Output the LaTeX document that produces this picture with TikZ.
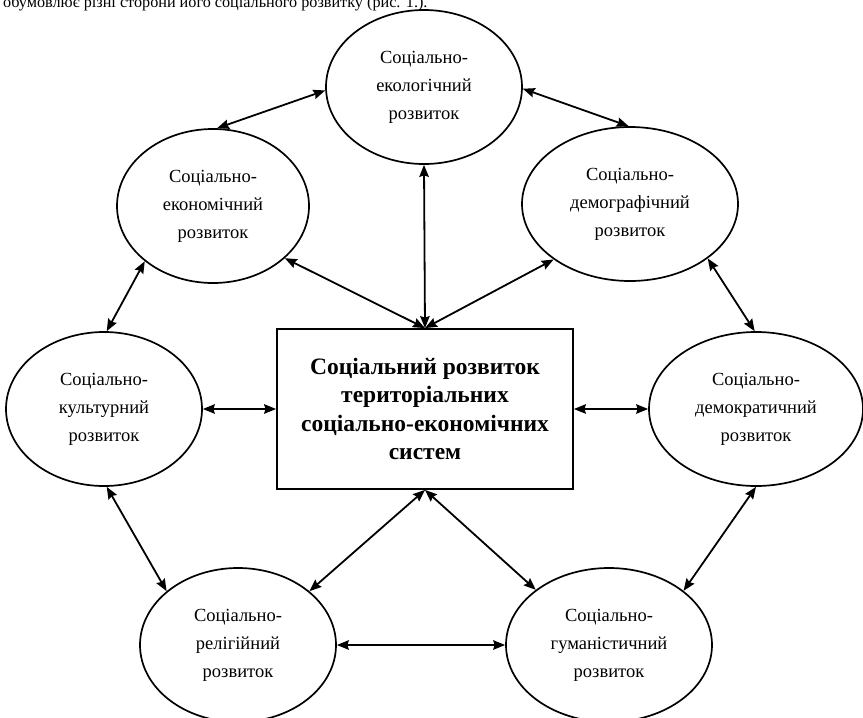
\documentclass[tikz,border=0pt]{standalone}
\usepackage{fontspec}
\setmainfont{Liberation Serif}
\usetikzlibrary{shapes.geometric,arrows.meta}
\begin{document}
\begin{tikzpicture}[x=1pt,y=-1pt,
 ell/.style={draw,ellipse,line width=1.7pt,inner sep=0pt,align=center,minimum height=154pt,font=\fontsize{18.5}{28}\selectfont},
 core/.style={draw,rectangle,line width=1.8pt,minimum width=296pt,minimum height=160pt,inner sep=0pt,align=center,font=\fontsize{23.5}{28.3}\selectfont\bfseries},
 link/.style={line width=1.8pt,{Stealth[length=12pt,width=9.5pt,inset=1.5pt]}-{Stealth[length=12pt,width=9.5pt,inset=1.5pt]}}]
\useasboundingbox (0,0) rectangle (863,718);
\clip (0,0) rectangle (863,718);
\node[anchor=base west,inner sep=0pt,font=\fontsize{16.2}{20}\selectfont] (intro) at (3,7) {обумовлює різні сторони його соціального розвитку (рис. 1.).};
\node[core] (box) at (425,409) {Соціальний розвиток\\територіальних\\соціально-економічних\\систем};
\node[ell,minimum width=196pt] (ecol) at (424,87) {Соціально-\\екологічний\\розвиток};
\node[ell,minimum width=192pt] (econ) at (213,206) {Соціально-\\економічний\\розвиток};
\node[ell,minimum width=216pt] (demog) at (630,204) {Соціально-\\демографічний\\розвиток};
\node[ell,minimum width=196pt] (cult) at (104,409) {Соціально-\\культурний\\розвиток};
\node[ell,minimum width=214pt] (democ) at (756,409) {Соціально-\\демократичний\\розвиток};
\node[ell,minimum width=196pt] (relig) at (238,645) {Соціально-\\релігійний\\розвиток};
\node[ell,minimum width=206pt] (human) at (609,645) {Соціально-\\гуманістичний\\розвиток};
\draw[link] (box.north) -- (ecol.south);
\draw[link] (box.north) -- (econ.-36.9);
\draw[link] (box.north) -- (demog.-144.3);
\draw[link] (box.west) -- (cult.east);
\draw[link] (box.east) -- (democ.west);
\draw[link] (box.south) -- (relig.37.1);
\draw[link] (box.south) -- (human.143.4);
\draw[link] (ecol.182) -- (econ.87);
\draw[link] (ecol.-1) -- (demog.91.5);
\draw[link] (econ.219.2) -- (cult.88);
\draw[link] (demog.-35.7) -- (democ.91);
\draw[link] (cult.272) -- (relig.143);
\draw[link] (democ.270) -- (human.36.6);
\draw[link] (relig.east) -- (human.west);
\end{tikzpicture}
\end{document}
